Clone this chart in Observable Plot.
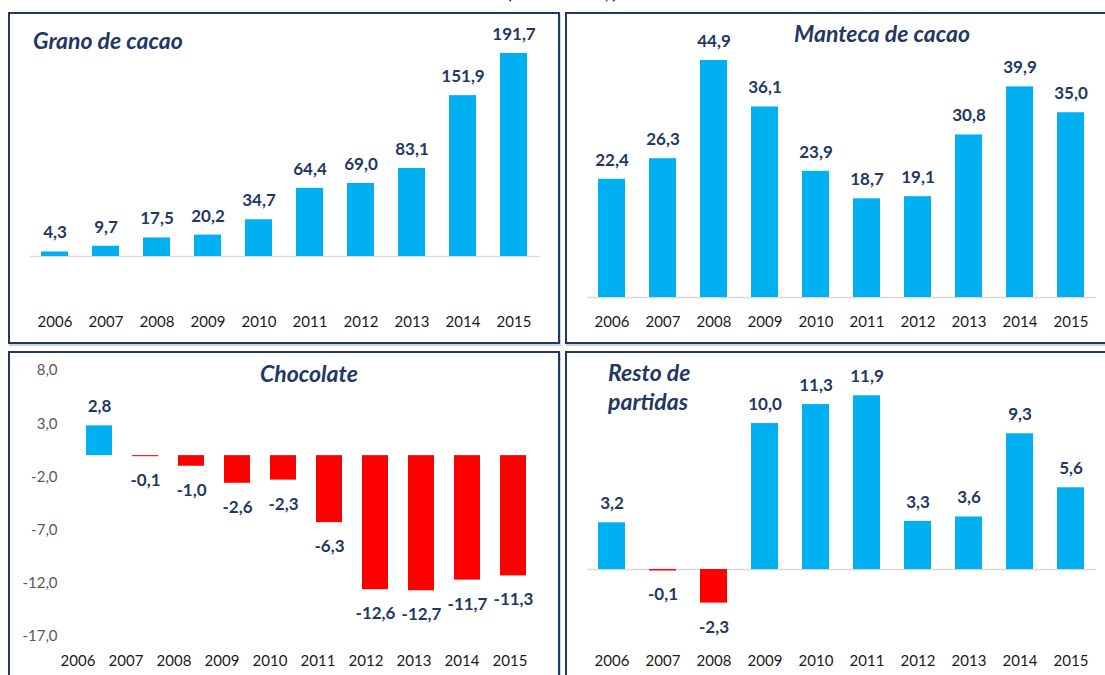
<!DOCTYPE html>
<html>
<head>
<meta charset="utf-8">
<script src="https://cdn.jsdelivr.net/npm/d3@7"></script>
<script src="https://cdn.jsdelivr.net/npm/@observablehq/plot@0.6"></script>
<style>
  html, body { margin: 0; padding: 0; background: #fff; overflow: hidden; }
  #page { position: relative; width: 1105px; height: 675px; overflow: hidden; font-family: Lato, "Open Sans", sans-serif; }
  .frame { position: absolute; box-sizing: border-box; border: 2px solid #1F3864; box-shadow: 1px 2px 0 #cfd3da; }
  .plot { position: absolute; }
  .title { position: absolute; font-weight: 700; font-style: italic; font-size: 23px; color: #1F3864; white-space: nowrap; line-height: 29px; }
  .sup { position: absolute; font-weight: 700; font-size: 17px; line-height: 20px; color: #1F3864; white-space: nowrap; }
</style>
</head>
<body>
<div id="page"></div>
<script>
// ---- data ----
const years = ["2006","2007","2008","2009","2010","2011","2012","2013","2014","2015"];
const grano = [4.3, 9.7, 17.5, 20.2, 34.7, 64.4, 69.0, 83.1, 151.9, 191.7];
const manteca = [22.4, 26.3, 44.9, 36.1, 23.9, 18.7, 19.1, 30.8, 39.9, 35.0];
const chocolate = [2.8, -0.1, -1.0, -2.6, -2.3, -6.3, -12.6, -12.7, -11.7, -11.3];
const resto = [3.2, -0.1, -2.3, 10.0, 11.3, 11.9, 3.3, 3.6, 9.3, 5.6];
const chocolateTicks = [8, 3, -2, -7, -12, -17];

const BLUE = "#00B0F0", RED = "#FF0000", NAVY = "#1F3864";
const fmt = d => d.toFixed(1).replace(".", ",");
const FONT = "Lato, 'Open Sans', sans-serif";

const page = document.getElementById("page");

function addDiv(cls, css, html) {
  const d = document.createElement("div");
  d.className = cls;
  Object.assign(d.style, css);
  if (html != null) d.innerHTML = html;
  page.appendChild(d);
  return d;
}

function yearAxis() {
  return Plot.axisX({anchor: "bottom", tickSize: 0, tickPadding: 0, color: "#1a1a1a", fontSize: 15, label: null});
}

function panel(cfg) {
  const {left, top, width, height, values, xRange, padInner, yDomain, yRange,
         marginLeft, marginRight, marginBottom, yTicks, zeroRule, labelRange} = cfg;
  addDiv("frame", {left: left + "px", top: top + "px", width: width + "px", height: height + "px"});
  const table = years.map((year, i) => ({year, v: values[i]}));
  const marks = [];
  if (zeroRule) marks.push(Plot.ruleY([0], {stroke: "#D9D9D9", strokeWidth: 1.5}));
  marks.push(Plot.barY(table, {x: "year", y: "v", fill: d => d.v >= 0 ? BLUE : RED}));
  marks.push(Plot.text(table.filter(d => d.v >= 0), {x: "year", y: "v", text: d => fmt(d.v), dy: -19,
    fill: NAVY, fontWeight: 700, fontSize: 17}));
  marks.push(Plot.text(table.filter(d => d.v < 0), {x: "year", y: "v", text: d => fmt(d.v), dy: 24,
    fill: NAVY, fontWeight: 700, fontSize: 17}));
  if (!labelRange) marks.push(yearAxis());
  if (yTicks) marks.push(Plot.axisY({anchor: "left", ticks: yTicks, tickSize: 0, tickPadding: 3,
    tickFormat: fmt, color: "#595959", fontSize: 15, label: null}));
  const svg = Plot.plot({
    width, height, marginTop: 0, marginLeft, marginRight, marginBottom,
    style: {fontFamily: FONT, fontSize: "15px", background: "transparent", overflow: "visible"},
    x: {type: "band", domain: years, range: xRange, paddingInner: padInner, paddingOuter: padInner / 2, align: 0.5, axis: null, label: null},
    y: {type: "linear", domain: yDomain, range: yRange, axis: null, label: null},
    marks
  });
  const holder = addDiv("plot", {left: left + "px", top: top + "px", width: width + "px", height: height + "px"});
  holder.appendChild(svg);
  if (labelRange) {
    // category labels of this panel sit on their own, slightly wider spacing
    const svg2 = Plot.plot({
      width, height, marginTop: 0, marginLeft, marginRight, marginBottom,
      style: {fontFamily: FONT, fontSize: "15px", background: "transparent", overflow: "visible"},
      x: {type: "band", domain: years, range: labelRange, axis: null, label: null},
      marks: [yearAxis()]
    });
    const holder2 = addDiv("plot", {left: left + "px", top: top + "px", width: width + "px", height: height + "px"});
    holder2.appendChild(svg2);
  }
}

// subtitle (cut off at top of the picture)
addDiv("sup", {left: "507px", top: "-17px"}, "(Millones US$)");

// Grano de cacao
panel({left: 8, top: 12, width: 552, height: 332, values: grano,
  xRange: [21.5, 531.5], padInner: 0.47, yDomain: [0, 191.7], yRange: [244, 41],
  marginLeft: 22, marginRight: 20, marginBottom: 28, zeroRule: true});
addDiv("title", {left: "33px", top: "26px"}, "Grano de cacao");

// Manteca de cacao
panel({left: 565, top: 12, width: 545, height: 332, values: manteca,
  xRange: [21.5, 531.5], padInner: 0.47, yDomain: [0, 44.9], yRange: [285, 48],
  marginLeft: 22, marginRight: 14, marginBottom: 28, zeroRule: true});
addDiv("title", {left: "782px", top: "19px", width: "200px", textAlign: "center"}, "Manteca de cacao");

// Chocolate
panel({left: 8, top: 351, width: 552, height: 330, values: chocolate,
  xRange: [65.2, 531.3], padInner: 0.44, yDomain: [-17, 8], yRange: [285, 19],
  marginLeft: 52, marginRight: 20, marginBottom: 26, yTicks: chocolateTicks, zeroRule: false,
  labelRange: [39.4, 531.6]});
addDiv("title", {left: "249px", top: "359px", width: "120px", textAlign: "center"}, "Chocolate");

// Resto de partidas
panel({left: 565, top: 351, width: 545, height: 330, values: resto,
  xRange: [21.5, 531.5], padInner: 0.47, yDomain: [-2.3, 11.9], yRange: [251.6, 44.3],
  marginLeft: 22, marginRight: 14, marginBottom: 26, zeroRule: true});
addDiv("title", {left: "608px", top: "358px"}, "Resto de<br>partidas");
</script>
</body>
</html>
